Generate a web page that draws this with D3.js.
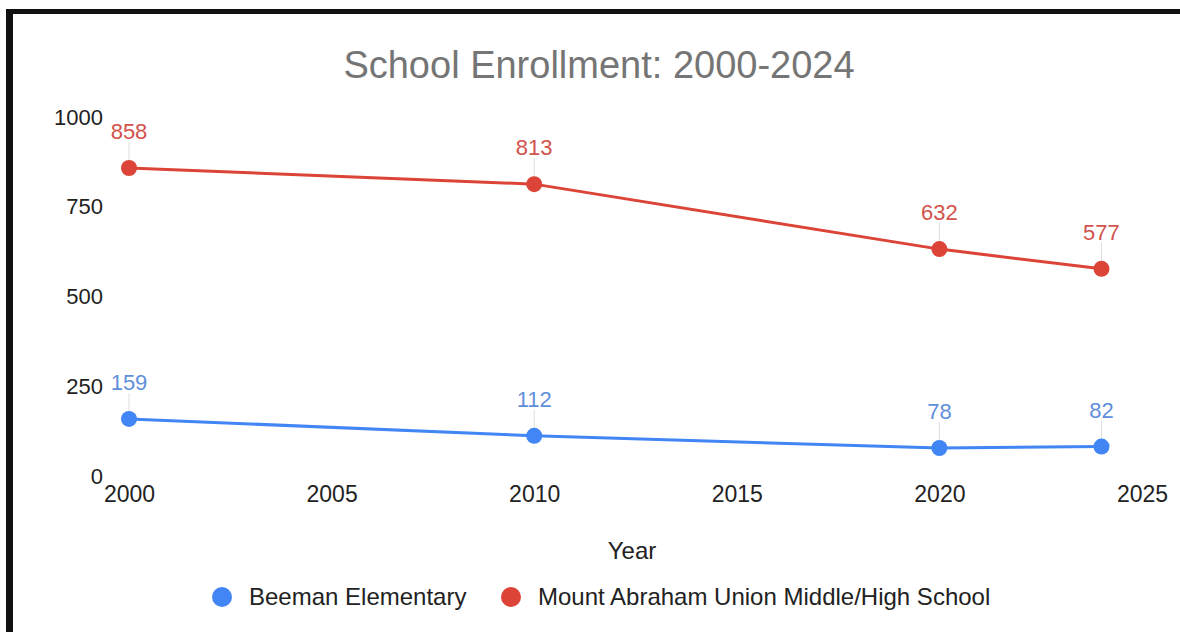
<!DOCTYPE html>
<html>
<head>
<meta charset="utf-8">
<script src="https://cdn.jsdelivr.net/npm/d3@7"></script>
<style>
  html, body { margin: 0; padding: 0; background: #fff; }
  svg { display: block; font-family: "Liberation Sans", Arial, sans-serif; }
</style>
</head>
<body>
<div id="chart"></div>
<script>
// data
const years = [2000, 2010, 2020, 2024];
const beeman = [159, 112, 78, 82];
const mountAbraham = [858, 813, 632, 577];
const seriesNames = ["Beeman Elementary", "Mount Abraham Union Middle/High School"];
const xTicks = [2000, 2005, 2010, 2015, 2020, 2025];
const yTicks = [0, 250, 500, 750, 1000];

const W = 1180, H = 632;
const margin = { top: 117, right: 38, bottom: 156, left: 129 };
const width = W - margin.left - margin.right;
const height = H - margin.top - margin.bottom;

const svg = d3.select("#chart").append("svg")
    .attr("width", W)
    .attr("height", H);

// the black frame on left and top
svg.append("rect").attr("x", 6).attr("y", 9).attr("width", 7).attr("height", H - 9).attr("fill", "#111");
svg.append("rect").attr("x", 6).attr("y", 9).attr("width", W - 6).attr("height", 5).attr("fill", "#111");

svg.append("text")
    .attr("x", 599)
    .attr("y", 78)
    .attr("text-anchor", "middle")
    .style("font-size", "38px")
    .style("fill", "#757575")
    .text("School Enrollment: 2000-2024");

const g = svg.append("g")
    .attr("transform", `translate(${margin.left},${margin.top})`);

const x = d3.scaleLinear().domain([2000, 2025]).range([0, width]);
const y = d3.scaleLinear().domain([0, 1000]).range([height, 0]);

// y axis labels (no lines)
const yAxis = g.append("g")
    .call(d3.axisLeft(y).tickValues(yTicks).tickFormat(d3.format("d")).tickSize(0).tickPadding(26));
yAxis.select(".domain").remove();
yAxis.selectAll("text")
    .style("font-size", "22px")
    .style("fill", "#222");

// x axis labels
const xAxis = g.append("g")
    .attr("transform", `translate(0,${height})`)
    .call(d3.axisBottom(x).tickValues(xTicks).tickFormat(d3.format("d")).tickSize(0).tickPadding(10));
xAxis.select(".domain").remove();
xAxis.selectAll("text")
    .style("font-size", "23px")
    .style("fill", "#222");

svg.append("text")
    .attr("x", 632)
    .attr("y", 559)
    .attr("text-anchor", "middle")
    .style("font-size", "24px")
    .style("fill", "#222")
    .text("Year");

const series = [
    { name: seriesNames[0], values: beeman, color: "#4285f4", label: "#5f8fdb" },
    { name: seriesNames[1], values: mountAbraham, color: "#db4437", label: "#d2524c" }
];

const line = d3.line()
    .x((d, i) => x(years[i]))
    .y(d => y(d));

series.forEach(s => {
    const pts = s.values.map((v, i) => ({ year: years[i], value: v }));

    // faint leader lines from labels to points
    g.selectAll(null).data(pts).enter().append("line")
        .attr("x1", d => x(d.year)).attr("x2", d => x(d.year))
        .attr("y1", d => y(d.value) - 26).attr("y2", d => y(d.value) - 6)
        .attr("stroke", "#ddd")
        .attr("stroke-width", 1);

    g.append("path")
        .datum(s.values)
        .attr("d", line)
        .attr("fill", "none")
        .attr("stroke", s.color)
        .attr("stroke-width", 3);

    g.selectAll(null).data(pts).enter().append("circle")
        .attr("cx", d => x(d.year))
        .attr("cy", d => y(d.value))
        .attr("r", 8)
        .attr("fill", s.color);

    g.selectAll(null).data(pts).enter().append("text")
        .attr("x", d => x(d.year))
        .attr("y", d => y(d.value) - 29)
        .attr("text-anchor", "middle")
        .style("font-size", "22px")
        .style("fill", s.label)
        .text(d => d.value);
});

// legend
const legendPos = [{ cx: 222, tx: 249 }, { cx: 511, tx: 538 }];
series.forEach((s, i) => {
    svg.append("circle")
        .attr("cx", legendPos[i].cx).attr("cy", 597).attr("r", 10)
        .attr("fill", s.color);
    svg.append("text")
        .attr("x", legendPos[i].tx).attr("y", 605)
        .style("font-size", "24px")
        .style("fill", "#222")
        .text(s.name);
});
</script>
</body>
</html>
